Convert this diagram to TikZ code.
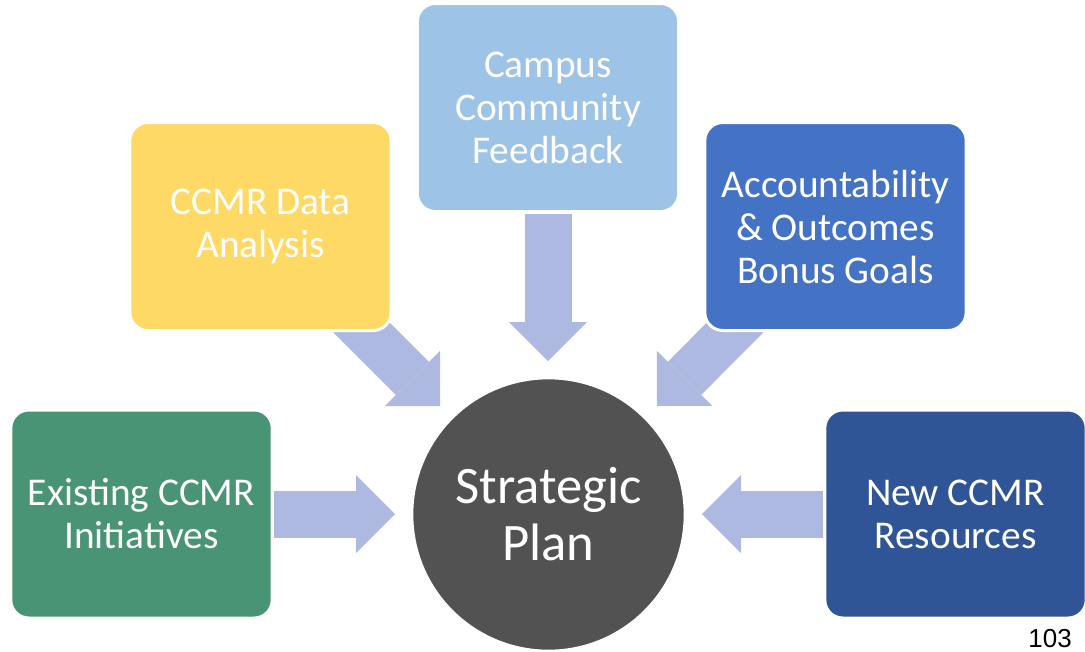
\documentclass[tikz,border=0pt]{standalone}
\usepackage{fontspec}
\setmainfont{Carlito}
\newfontfamily\pagefont{Liberation Sans}
\usetikzlibrary{arrows.meta, backgrounds}
\usepackage{xcolor}
\definecolor{existgreen}{HTML}{489474}
\definecolor{datagold}{HTML}{FFD966}
\definecolor{feedsky}{HTML}{9DC3E6}
\definecolor{bonusblue}{HTML}{4472C4}
\definecolor{resnavy}{HTML}{2F5597}
\definecolor{plangray}{HTML}{525252}
\definecolor{arrowblue}{HTML}{ADB9E0}

\begin{document}
\begin{tikzpicture}[
    x=0.75pt, y=-0.75pt,
    inputbox/.style={draw=white, line width=2.25pt, rounded corners=13.5pt,
        minimum width=196pt, minimum height=156pt, inner sep=0pt,
        text=white, align=center, font=\fontsize{29.5}{32.25}\selectfont},
    feedarrow/.style={draw=arrowblue, line width=35.25pt,
        -{Triangle[length=29.25pt, width=58.5pt, line width=0pt]}}
]
\useasboundingbox (0,0) rectangle (1085,651);

	% input boxes
	\node[inputbox, fill=existgreen] (exist) at (141.5,514) {Existing CCMR\\Initiatives};
	\node[inputbox, fill=datagold] (data) at (260.5,226.5) {CCMR Data\\Analysis};
	\node[inputbox, fill=feedsky] (feedback) at (548,107.5) {Campus\\Community\\Feedback};
	\node[inputbox, fill=bonusblue] (bonus) at (835.5,226.5) {Accountability\\\& Outcomes\\Bonus Goals};
	\node[inputbox, fill=resnavy] (resources) at (955.5,514) {New CCMR\\Resources};

	% strategic plan
	\node[circle, fill=plangray, draw=white, line width=2.25pt, minimum size=205pt, inner sep=0pt,
	    text=white, align=center, font=\fontsize{39.5}{42.75}\selectfont] (plan) at (548.5,514.5) {Strategic\\Plan};

	\coordinate (tipW) at (395,514);
	\coordinate (tipNW) at (440,406);
	\coordinate (tipN) at (548,361);
	\coordinate (tipNE) at (657,406);
	\coordinate (tipE) at (702,514);

	\begin{scope}[on background layer]
	\draw[feedarrow] (exist.east) -- (tipW);
	\draw[feedarrow] (data.center) -- (tipNW);
	\draw[feedarrow, shorten <=1pt] (feedback.south) -- (tipN);
	\draw[feedarrow] (bonus.center) -- (tipNE);
	\draw[feedarrow] (resources.west) -- (tipE);
	\end{scope}

\node[anchor=base east, inner sep=0pt, font=\pagefont\fontsize{19.5}{22}\selectfont] (pagenum) at (1072,647) {103};
\end{tikzpicture}
\end{document}
